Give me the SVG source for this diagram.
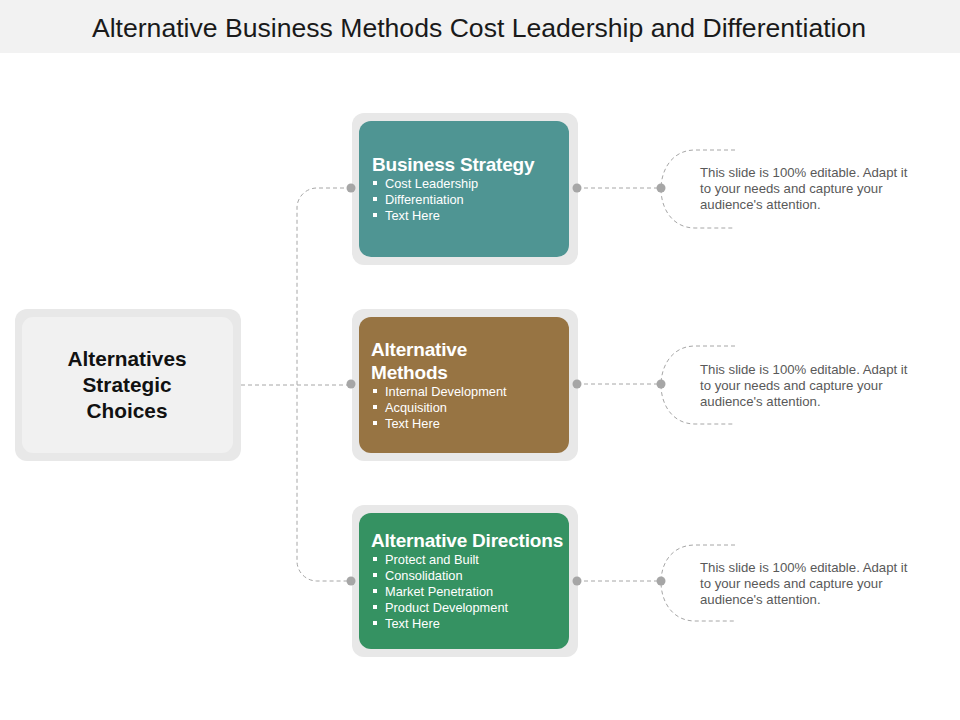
<svg xmlns="http://www.w3.org/2000/svg" width="960" height="720" viewBox="0 0 960 720">
<style>
.outer{fill:#e8e8e8}
.head{font-family:"Liberation Sans",Arial,sans-serif;font-weight:bold;font-size:19px;fill:#ffffff;letter-spacing:-0.2px}
.item{font-family:"Liberation Sans",Arial,sans-serif;font-size:12.8px;fill:#ffffff}
.desc{font-family:"Liberation Sans",Arial,sans-serif;font-size:13.2px;fill:#595959}
.root{font-family:"Liberation Sans",Arial,sans-serif;font-weight:bold;font-size:20.8px;fill:#111111}
.conn{fill:none;stroke:#a6a6a6;stroke-width:1;stroke-dasharray:4 3}
.dot{fill:#a6a6a6}
.bul{fill:#ffffff}
</style>
<rect width="960" height="720" fill="#ffffff"/>
<rect x="0" y="0" width="960" height="53" fill="#f2f2f2"/>
<text x="479" y="37" text-anchor="middle" font-family="Liberation Sans, Arial, sans-serif" font-size="26.6" fill="#1a1a1a">Alternative Business Methods Cost Leadership and Differentiation</text>

<g id="root">
<rect class="outer" x="15" y="309" width="226" height="152" rx="12"/>
<rect x="22" y="317" width="211" height="136" rx="11" fill="#f1f1f1"/>
<text class="root" x="127" y="366" text-anchor="middle">Alternatives</text>
<text class="root" x="127" y="392" text-anchor="middle">Strategic</text>
<text class="root" x="127" y="418" text-anchor="middle">Choices</text>
</g>

<g id="business-strategy">
<rect class="outer" x="352" y="113" width="226" height="152" rx="12"/>
<rect x="359" y="121" width="210" height="136" rx="12" fill="#4f9593"/>
<text class="head" x="372" y="171">Business Strategy</text>
<rect class="bul" x="373" y="181" width="4" height="4"/><text class="item" x="385" y="188">Cost Leadership</text>
<rect class="bul" x="373" y="197" width="4" height="4"/><text class="item" x="385" y="204">Differentiation</text>
<rect class="bul" x="373" y="213" width="4" height="4"/><text class="item" x="385" y="220">Text Here</text>
</g>

<g id="alternative-methods">
<rect class="outer" x="352" y="309" width="226" height="152" rx="12"/>
<rect x="359" y="317" width="210" height="136" rx="12" fill="#977443"/>
<text class="head" x="371" y="356">Alternative</text>
<text class="head" x="371" y="379">Methods</text>
<rect class="bul" x="373" y="389" width="4" height="4"/><text class="item" x="385" y="396">Internal  Development</text>
<rect class="bul" x="373" y="405" width="4" height="4"/><text class="item" x="385" y="412">Acquisition</text>
<rect class="bul" x="373" y="421" width="4" height="4"/><text class="item" x="385" y="428">Text Here</text>
</g>

<g id="alternative-directions">
<rect class="outer" x="352" y="505" width="226" height="152" rx="12"/>
<rect x="359" y="513" width="210" height="136" rx="12" fill="#359262"/>
<text class="head" x="371" y="547">Alternative Directions</text>
<rect class="bul" x="373" y="557" width="4" height="4"/><text class="item" x="385" y="564">Protect and Built</text>
<rect class="bul" x="373" y="573" width="4" height="4"/><text class="item" x="385" y="580">Consolidation</text>
<rect class="bul" x="373" y="589" width="4" height="4"/><text class="item" x="385" y="596">Market Penetration</text>
<rect class="bul" x="373" y="605" width="4" height="4"/><text class="item" x="385" y="612">Product Development</text>
<rect class="bul" x="373" y="621" width="4" height="4"/><text class="item" x="385" y="628">Text Here</text>
</g>

<g id="connectors">
<path class="conn" d="M241,385 H351"/>
<path class="conn" d="M351,188 H317 A20,20 0 0 0 297,208 V561 A20,20 0 0 0 317,581 H351"/>
<path class="conn" d="M577,188 H661"/>
<path class="conn" d="M577,384 H661"/>
<path class="conn" d="M577,581 H661"/>
<path class="conn" d="M735,150 H695 C672,150 661,170 661,189 C661,208 672,228 695,228 H735"/>
<path class="conn" d="M735,346 H695 C672,346 661,366 661,385 C661,404 672,424 695,424 H735"/>
<path class="conn" d="M735,545 H695 C672,545 661,563 661,582 C661,601 672,621 695,621 H735"/>
<circle class="dot" cx="351" cy="188" r="4.5"/>
<circle class="dot" cx="577" cy="188" r="4.5"/>
<circle class="dot" cx="661" cy="188" r="4.5"/>
<circle class="dot" cx="351" cy="384" r="4.5"/>
<circle class="dot" cx="577" cy="384" r="4.5"/>
<circle class="dot" cx="661" cy="384" r="4.5"/>
<circle class="dot" cx="351" cy="581" r="4.5"/>
<circle class="dot" cx="577" cy="581" r="4.5"/>
<circle class="dot" cx="661" cy="581" r="4.5"/>
</g>

<g id="desc-1">
<text class="desc" x="700" y="177">This slide is 100% editable. Adapt it</text>
<text class="desc" x="700" y="193">to your needs and capture your</text>
<text class="desc" x="700" y="209">audience's attention.</text>
</g>
<g id="desc-2">
<text class="desc" x="700" y="374">This slide is 100% editable. Adapt it</text>
<text class="desc" x="700" y="390">to your needs and capture your</text>
<text class="desc" x="700" y="406">audience's attention.</text>
</g>
<g id="desc-3">
<text class="desc" x="700" y="572">This slide is 100% editable. Adapt it</text>
<text class="desc" x="700" y="588">to your needs and capture your</text>
<text class="desc" x="700" y="604">audience's attention.</text>
</g>
</svg>
